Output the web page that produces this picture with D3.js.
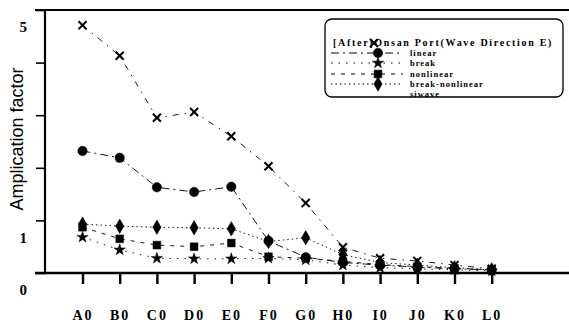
<!DOCTYPE html>
<html>
<head>
<meta charset="utf-8">
<script src="https://cdn.jsdelivr.net/npm/d3@7"></script>
<style>
  body { margin: 0; background: #fff; }
  svg { display: block; }
  .tick-lbl { font-family: "Liberation Serif", "DejaVu Serif", serif; font-weight: bold; }
  .legend { font-family: "Liberation Serif", serif; font-weight: bold; }
</style>
</head>
<body>
<svg class="chart" width="569" height="324"></svg>
<script>
// chart values
var categories = ["A0", "B0", "C0", "D0", "E0", "F0", "G0", "H0", "I0", "J0", "K0", "L0"];
var linear = [2.32, 2.19, 1.63, 1.54, 1.64, 0.61, 0.30, 0.20, 0.15, 0.11, 0.08, 0.06];
var breakVals = [0.68, 0.44, 0.28, 0.27, 0.27, 0.28, 0.25, 0.15, 0.10, 0.08, 0.06, 0.04];
var nonlinear = [0.87, 0.65, 0.53, 0.50, 0.57, 0.31, 0.28, 0.22, 0.16, 0.12, 0.09, 0.06];
var breakNonlinear = [0.93, 0.89, 0.87, 0.86, 0.84, 0.60, 0.67, 0.35, 0.20, 0.15, 0.10, 0.06];
var siwave = [4.71, 4.13, 2.95, 3.06, 2.60, 2.03, 1.33, 0.49, 0.28, 0.23, 0.15, 0.08];
var yTicks = [0, 1, 2, 3, 4, 5];
var yLabels = [0, 1, 5];
var legendTitle = "[After]Onsan Port(Wave Direction E)";

(function () {
    var svg = d3.select(".chart"),
        margin = { top: 10, right: 0, bottom: 51, left: 45 },
        width = +svg.attr("width") - margin.left - margin.right,
        height = +svg.attr("height") - margin.top - margin.bottom,
        g = svg.append("g").attr("transform", "translate(" + margin.left + "," + margin.top + ")");

    var x = d3.scalePoint()
        .domain(categories)
        .range([37.5, 446.7]);

    var y = d3.scaleLinear()
        .domain([0, 5])
        .range([height, 0]);

    // X marker (no d3.symbolTimes in older builds)
    var symbolX = {
        draw: function (ctx, size) {
            var r = Math.sqrt(size) / 2;
            ctx.moveTo(-r, -r); ctx.lineTo(r, r);
            ctx.moveTo(r, -r); ctx.lineTo(-r, r);
        }
    };

    var series = [
        { name: "linear", values: linear, sym: d3.symbolCircle, size: 70, dash: "8,4,2,4" },
        { name: "break", values: breakVals, sym: d3.symbolStar, size: 40, dash: "1.5,6" },
        { name: "nonlinear", values: nonlinear, sym: d3.symbolSquare, size: 60, dash: "4,6" },
        { name: "break-nonlinear", values: breakNonlinear, sym: d3.symbolDiamond, size: 60, dash: "1.5,3" },
        { name: "siwave", values: siwave, sym: symbolX, size: 64, dash: "6,6,1.5,6" }
    ];

    // frame: top border, left axis, bottom axis
    svg.append("line")
        .attr("x1", 35).attr("x2", 569)
        .attr("y1", margin.top).attr("y2", margin.top)
        .attr("stroke", "#000").attr("stroke-width", 2.2);

    g.append("line")
        .attr("x1", 0).attr("x2", 0)
        .attr("y1", 0).attr("y2", height)
        .attr("stroke", "#000").attr("stroke-width", 2.2);

    g.append("line")
        .attr("x1", -10).attr("x2", width)
        .attr("y1", height).attr("y2", height)
        .attr("stroke", "#000").attr("stroke-width", 2.4);

    // y axis ticks, labels sit a bit lower than the ticks in the scan
    var yAxis = g.append("g")
        .call(d3.axisLeft(y).tickValues(yTicks).tickSize(9).tickFormat(function (d) {
            return yLabels.indexOf(d) >= 0 ? d : "";
        }));
    yAxis.select(".domain").remove();
    yAxis.selectAll("line").attr("stroke", "#000").attr("stroke-width", 1.6);
    yAxis.selectAll("text")
        .attr("class", "tick-lbl")
        .attr("x", -18)
        .attr("dy", "1.45em")
        .attr("font-size", "15px")
        .attr("fill", "#000");

    // x axis
    var xAxis = g.append("g")
        .attr("transform", "translate(0," + height + ")")
        .call(d3.axisBottom(x).tickSize(11).tickPadding(26));
    xAxis.select(".domain").remove();
    xAxis.selectAll("line").attr("stroke", "#000").attr("stroke-width", 2.4);
    xAxis.selectAll("text")
        .attr("class", "tick-lbl")
        .attr("font-size", "14px")
        .attr("letter-spacing", "2px")
        .attr("fill", "#000");

    svg.append("text")
        .attr("transform", "translate(23,139) rotate(-90)")
        .attr("text-anchor", "middle")
        .attr("font-family", "Liberation Sans, Arial, sans-serif")
        .attr("font-size", "18px")
        .text("Amplication factor");

    var line = d3.line()
        .x(function (d, i) { return x(categories[i]); })
        .y(function (d) { return y(d); });

    series.forEach(function (s) {
        g.append("path")
            .datum(s.values)
            .attr("fill", "none")
            .attr("stroke", "#000")
            .attr("stroke-width", 0.9)
            .attr("stroke-dasharray", s.dash)
            .attr("d", line);
    });

    series.forEach(function (s) {
        g.selectAll(".m-" + s.name)
            .data(s.values)
            .enter()
            .append("path")
            .attr("transform", function (d, i) {
                return "translate(" + x(categories[i]) + "," + y(d) + ")";
            })
            .attr("d", d3.symbol().type(s.sym).size(s.size))
            .attr("fill", s.sym === symbolX ? "none" : "#000")
            .attr("stroke", "#000")
            .attr("stroke-width", s.sym === symbolX ? 2 : 0.5);
    });

    // legend
    var lg = svg.append("g").attr("class", "legend");
    lg.append("rect")
        .attr("x", 325).attr("y", 19)
        .attr("width", 238).attr("height", 78)
        .attr("rx", 7)
        .attr("fill", "#fff")
        .attr("stroke", "#000")
        .attr("stroke-width", 1.3);

    lg.append("text")
        .attr("x", 333).attr("y", 46)
        .attr("font-size", "10px")
        .attr("letter-spacing", "1.7px")
        .text(legendTitle);

    var rowY = [53, 63, 74, 84, 94];
    series.forEach(function (s, i) {
        var ry = rowY[i];
        if (i < 4) {
            lg.append("line")
                .attr("x1", 331).attr("x2", 403)
                .attr("y1", ry).attr("y2", ry)
                .attr("stroke", "#000").attr("stroke-width", 1)
                .attr("stroke-dasharray", s.dash);
        }
        // the siwave symbol sits up in the title in the scan
        var mx = i < 4 ? 378 : 374, my = i < 4 ? ry : 43;
        lg.append("path")
            .attr("transform", "translate(" + mx + "," + my + ")")
            .attr("d", d3.symbol().type(s.sym).size(s.size))
            .attr("fill", s.sym === symbolX ? "none" : "#000")
            .attr("stroke", "#000")
            .attr("stroke-width", s.sym === symbolX ? 2 : 0.5);
        lg.append("text")
            .attr("x", 410).attr("y", ry + 3)
            .attr("font-size", "8.5px")
            .attr("letter-spacing", "1px")
            .text(s.name);
    });
})();
</script>
</body>
</html>
